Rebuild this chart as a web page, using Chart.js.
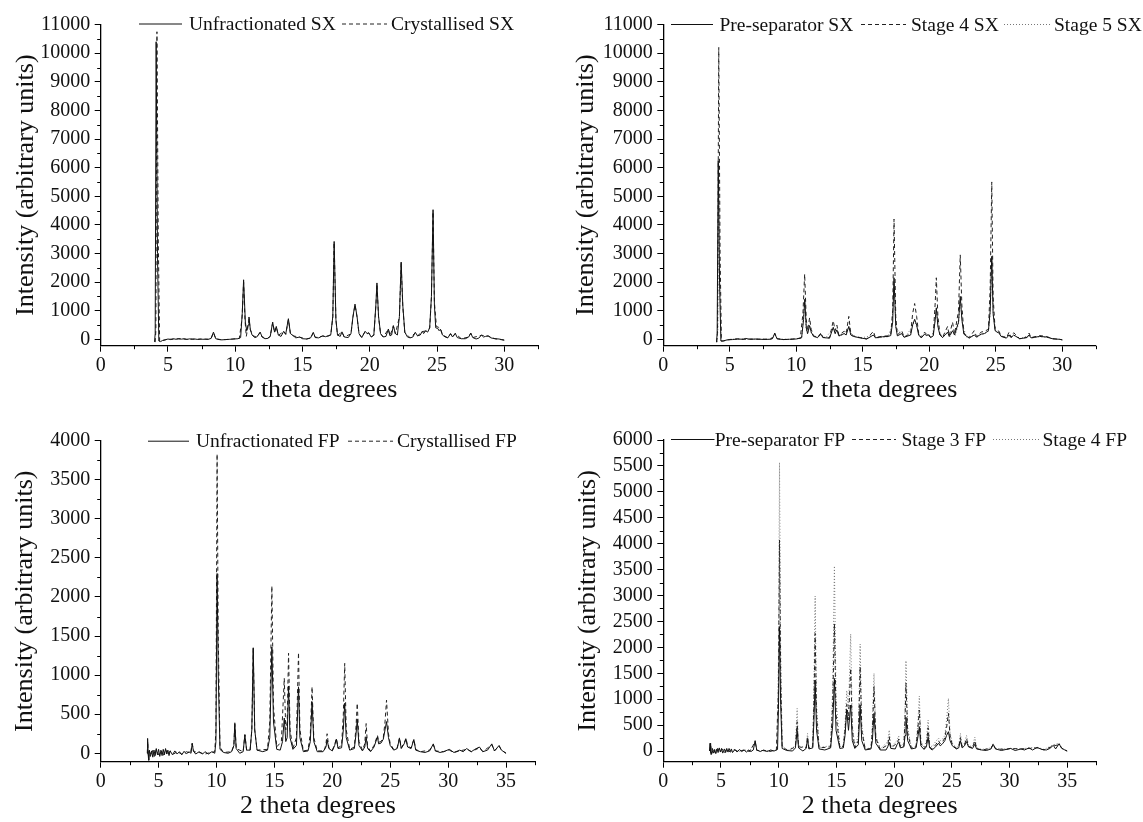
<!DOCTYPE html>
<html>
<head>
<meta charset="utf-8">
<title>XRD patterns SX / FP</title>
<script src="https://cdn.jsdelivr.net/npm/chart.js@4.4.0/dist/chart.umd.min.js"></script>
<style>
  body { margin:0; background:#fff; }
  #wrap { position:relative; width:1143px; height:822px; overflow:hidden; }
  canvas { position:absolute; }
</style>
</head>
<body>
<div id="wrap">
  <canvas id="c1" width="571" height="411" style="left:0;top:0"></canvas>
  <canvas id="c2" width="572" height="411" style="left:571px;top:0"></canvas>
  <canvas id="c3" width="571" height="411" style="left:0;top:411px"></canvas>
  <canvas id="c4" width="572" height="411" style="left:571px;top:411px"></canvas>
</div>
<script>
// ---------- data: [2 theta, intensity] ----------
const sxTicksX = [0,5,10,15,20,25,30];
const sxMinorX = [2.5,7.5,12.5,17.5,22.5,27.5,32.5];
const sxTicksY = [0,1000,2000,3000,4000,5000,6000,7000,8000,9000,10000,11000];
const sxMinorY = [500,1500,2500,3500,4500,5500,6500,7500,8500,9500,10500];

const fpTicksX = [0,5,10,15,20,25,30,35];
const fpMinorX = [2.5,7.5,12.5,17.5,22.5,27.5,32.5,37.5];
const fp3TicksY = [0,500,1000,1500,2000,2500,3000,3500,4000];
const fp3MinorY = [250,750,1250,1750,2250,2750,3250,3750];
const fp4TicksY = [0,500,1000,1500,2000,2500,3000,3500,4000,4500,5000,5500,6000];
const fp4MinorY = [250,750,1250,1750,2250,2750,3250,3750,4250,4750,5250,5750];

// panel 1
const unfracSX = [[4.0,-90],[4.05,200],[4.12,10400],[4.22,3000],[4.32,-60],[4.45,-80],[4.6,-40],[4.8,-20],[5.0,10],[5.2,-10],[5.4,20],[5.6,0],[5.8,25],[6.0,5],[6.2,20],[6.4,-5],[6.6,15],[6.8,0],[7.0,10],[7.2,-5],[7.4,10],[7.6,0],[7.8,5],[8.0,0],[8.2,30],[8.38,250],[8.55,20],[8.8,-10],[9.0,-20],[9.3,-10],[9.6,0],[9.9,10],[10.2,20],[10.4,60],[10.52,900],[10.62,2080],[10.75,600],[10.85,300],[10.95,500],[11.02,780],[11.12,350],[11.25,150],[11.45,60],[11.6,80],[11.85,250],[12.0,80],[12.2,20],[12.4,30],[12.6,100],[12.78,600],[12.92,250],[13.05,450],[13.2,150],[13.4,100],[13.6,280],[13.75,180],[13.95,720],[14.1,200],[14.3,130],[14.5,50],[14.8,80],[15.0,20],[15.3,10],[15.6,50],[15.8,240],[15.95,60],[16.2,50],[16.5,120],[16.7,90],[16.9,120],[17.1,160],[17.25,800],[17.35,3420],[17.48,700],[17.6,150],[17.8,100],[17.93,260],[18.1,80],[18.4,60],[18.6,200],[18.75,800],[18.9,1230],[19.05,800],[19.2,200],[19.4,60],[19.65,280],[19.8,200],[19.92,230],[20.1,80],[20.3,150],[20.45,1200],[20.53,1970],[20.65,800],[20.8,200],[21.0,80],[21.2,100],[21.38,360],[21.5,120],[21.62,150],[21.75,480],[21.9,200],[22.05,150],[22.2,800],[22.33,2700],[22.45,1200],[22.6,250],[22.8,80],[23.0,50],[23.2,80],[23.38,240],[23.55,120],[23.75,150],[23.9,280],[24.0,200],[24.15,300],[24.3,250],[24.45,400],[24.58,1500],[24.7,4530],[24.8,1200],[24.9,400],[25.05,380],[25.15,300],[25.25,350],[25.4,150],[25.6,80],[25.8,50],[26.0,200],[26.15,80],[26.35,210],[26.5,60],[26.8,20],[27.1,20],[27.35,80],[27.5,220],[27.65,60],[27.9,10],[28.1,40],[28.3,150],[28.45,80],[28.6,100],[28.8,120],[29.0,50],[29.3,20],[29.6,10],[29.8,-10],[30.0,-30]];
const crystSX = [[4.05,-100],[4.1,300],[4.18,10750],[4.28,3500],[4.38,-60],[4.5,-60],[4.7,-30],[5.0,10],[5.3,0],[5.6,15],[6.0,10],[6.4,0],[6.8,10],[7.2,0],[7.6,5],[8.0,0],[8.2,20],[8.38,230],[8.55,20],[8.9,-10],[9.3,-10],[9.8,10],[10.3,30],[10.5,700],[10.62,2000],[10.72,700],[10.82,100],[10.95,450],[11.02,720],[11.12,330],[11.3,130],[11.6,70],[11.85,240],[12.0,80],[12.4,30],[12.6,100],[12.78,580],[12.92,240],[13.05,430],[13.2,140],[13.6,270],[13.75,170],[13.95,690],[14.1,190],[14.3,120],[14.8,70],[15.3,10],[15.6,40],[15.8,230],[15.95,60],[16.5,110],[16.9,110],[17.1,150],[17.25,780],[17.35,3380],[17.48,680],[17.6,140],[17.93,250],[18.1,80],[18.6,190],[18.75,780],[18.9,1200],[19.05,780],[19.2,190],[19.4,60],[19.65,270],[19.8,190],[19.92,220],[20.1,80],[20.3,140],[20.45,1150],[20.53,1930],[20.65,780],[20.8,190],[21.0,80],[21.38,350],[21.5,120],[21.75,460],[21.9,190],[22.2,780],[22.33,2650],[22.45,1150],[22.6,240],[23.0,50],[23.38,230],[23.55,120],[23.9,270],[24.15,290],[24.45,390],[24.58,1450],[24.7,4450],[24.8,1300],[24.95,450],[25.1,420],[25.25,380],[25.4,160],[25.8,50],[26.0,190],[26.15,80],[26.35,200],[26.8,20],[27.35,80],[27.5,210],[27.65,60],[28.3,140],[28.8,110],[29.3,20],[30.0,-30]];

// panel 2
const preSepSX = [[4.0,-100],[4.05,200],[4.13,6250],[4.23,2000],[4.33,-60],[4.5,-60],[4.8,-20],[5.2,-10],[5.6,10],[6.0,0],[6.2,30],[6.5,0],[7.0,10],[7.5,-5],[8.0,0],[8.2,20],[8.38,200],[8.55,20],[9.0,-10],[9.5,0],[10.0,10],[10.4,50],[10.55,700],[10.64,1400],[10.75,400],[10.85,200],[11.0,480],[11.12,250],[11.3,100],[11.6,60],[11.85,180],[12.0,60],[12.5,40],[12.78,420],[12.92,200],[13.05,330],[13.2,120],[13.6,200],[13.75,150],[13.95,450],[14.1,150],[14.3,100],[14.8,50],[15.3,10],[15.8,150],[15.95,50],[16.5,90],[16.9,100],[17.1,130],[17.25,600],[17.35,2150],[17.48,450],[17.6,120],[17.93,200],[18.1,70],[18.6,150],[18.75,500],[18.9,700],[19.05,500],[19.2,150],[19.4,50],[19.65,180],[19.8,130],[19.92,160],[20.1,60],[20.3,120],[20.45,700],[20.53,1100],[20.65,450],[20.8,150],[21.0,60],[21.38,250],[21.5,100],[21.75,300],[21.9,150],[22.2,600],[22.33,1500],[22.45,700],[22.6,180],[23.0,40],[23.38,150],[23.55,80],[23.9,180],[24.15,200],[24.45,300],[24.58,1000],[24.7,2900],[24.8,900],[24.95,300],[25.1,250],[25.25,220],[25.4,100],[25.8,40],[26.0,150],[26.15,60],[26.35,150],[26.8,20],[27.35,60],[27.5,150],[27.65,50],[28.3,100],[28.8,80],[29.3,15],[29.8,0],[30.0,-20]];
const stage4SX = [[4.02,-100],[4.08,300],[4.17,10200],[4.27,3000],[4.37,-60],[4.5,-60],[4.8,-20],[5.2,0],[5.6,15],[6.0,0],[6.5,10],[7.0,0],[7.5,5],[8.0,0],[8.2,30],[8.38,220],[8.55,20],[9.0,-10],[9.6,0],[10.3,40],[10.5,900],[10.63,2280],[10.75,700],[10.85,300],[11.0,750],[11.12,350],[11.3,120],[11.6,70],[11.85,220],[12.0,70],[12.5,50],[12.78,650],[12.92,300],[13.05,500],[13.2,150],[13.6,280],[13.75,200],[13.95,800],[14.1,200],[14.3,120],[14.8,60],[15.3,10],[15.8,280],[15.95,60],[16.5,110],[16.9,120],[17.1,160],[17.25,1000],[17.35,4200],[17.48,800],[17.6,150],[17.93,300],[18.1,80],[18.6,200],[18.75,900],[18.9,1250],[19.05,800],[19.2,200],[19.4,60],[19.65,250],[19.8,170],[19.92,200],[20.1,70],[20.3,150],[20.45,1300],[20.53,2150],[20.65,800],[20.8,180],[21.0,70],[21.38,450],[21.5,120],[21.75,600],[21.9,180],[22.2,1000],[22.33,2950],[22.45,1200],[22.6,220],[23.0,50],[23.38,300],[23.55,100],[23.9,250],[24.15,280],[24.45,350],[24.58,1800],[24.7,5500],[24.8,1500],[24.95,350],[25.1,300],[25.25,280],[25.4,120],[25.8,50],[26.0,250],[26.15,70],[26.35,230],[26.8,20],[27.35,70],[27.5,220],[27.65,60],[28.3,130],[28.8,100],[29.3,20],[29.8,0],[30.0,-20]];
const stage5SX = [[4.03,-100],[4.1,300],[4.16,5900],[4.25,1800],[4.35,-60],[4.6,-50],[5.0,0],[5.5,10],[6.0,0],[7.0,5],[8.0,0],[8.38,180],[8.6,10],[9.5,0],[10.4,40],[10.62,1300],[10.75,350],[10.85,180],[11.0,450],[11.15,200],[11.6,50],[11.85,160],[12.2,40],[12.78,400],[12.92,180],[13.05,300],[13.25,100],[13.6,180],[13.95,420],[14.2,120],[14.8,40],[15.8,140],[16.0,40],[16.9,90],[17.2,500],[17.35,2000],[17.5,400],[17.93,180],[18.2,60],[18.75,480],[18.9,650],[19.05,450],[19.3,100],[19.65,170],[19.92,150],[20.2,80],[20.45,650],[20.53,1050],[20.7,300],[21.0,60],[21.38,230],[21.55,90],[21.75,280],[21.95,120],[22.2,550],[22.33,1400],[22.5,500],[22.8,80],[23.38,140],[23.6,70],[23.9,170],[24.15,190],[24.45,280],[24.58,900],[24.7,2800],[24.82,800],[25.0,280],[25.25,200],[25.5,80],[26.0,140],[26.15,60],[26.35,140],[26.8,20],[27.5,140],[27.7,40],[28.3,90],[28.8,70],[29.5,10],[30.0,-20]];

// panel 3
const unfracFP = [[4.0,0],[4.05,190],[4.1,-20],[4.15,-90],[4.2,40],[4.3,-40],[4.4,30],[4.5,-50],[4.6,40],[4.7,-30],[4.8,60],[4.9,-20],[5.0,50],[5.1,-40],[5.2,30],[5.3,-30],[5.4,50],[5.5,-20],[5.6,60],[5.7,-10],[5.8,40],[5.9,-30],[6.0,30],[6.2,-20],[6.4,30],[6.6,-10],[6.8,20],[7.0,-20],[7.2,25],[7.4,-10],[7.6,20],[7.8,0],[7.9,130],[8.0,30],[8.2,-10],[8.5,20],[8.8,-10],[9.0,20],[9.3,-10],[9.6,20],[9.85,0],[9.95,150],[10.05,2300],[10.15,1000],[10.3,50],[10.6,10],[11.0,0],[11.3,20],[11.5,100],[11.58,380],[11.7,60],[12.0,0],[12.3,20],[12.45,235],[12.6,40],[12.9,40],[13.05,300],[13.17,1350],[13.3,300],[13.5,40],[14.0,20],[14.4,40],[14.6,200],[14.78,1360],[14.92,400],[15.2,50],[15.5,40],[15.7,150],[15.85,450],[15.98,150],[16.1,200],[16.22,860],[16.35,200],[16.6,50],[16.9,100],[17.08,850],[17.2,200],[17.5,20],[17.9,30],[18.1,150],[18.25,660],[18.4,150],[18.7,20],[19.2,20],[19.45,80],[19.55,170],[19.7,60],[20.0,30],[20.2,100],[20.35,180],[20.5,60],[20.8,70],[20.95,300],[21.07,640],[21.2,200],[21.5,40],[21.9,60],[22.05,250],[22.15,435],[22.3,100],[22.6,30],[22.8,80],[22.92,210],[23.05,60],[23.3,20],[23.6,80],[23.9,210],[24.0,120],[24.2,130],[24.4,180],[24.55,300],[24.68,405],[24.85,200],[25.0,100],[25.3,40],[25.6,60],[25.8,190],[25.95,60],[26.2,120],[26.36,180],[26.5,80],[26.8,60],[27.04,175],[27.2,40],[27.6,20],[28.0,10],[28.4,30],[28.72,120],[28.9,30],[29.3,10],[29.6,20],[30.1,50],[30.5,10],[31.0,40],[31.3,20],[31.6,60],[32.0,20],[32.3,50],[32.7,80],[33.0,20],[33.4,40],[33.77,120],[34.0,30],[34.4,100],[34.6,40],[35.0,0]];
const crystFP = [[4.02,0],[4.06,150],[4.12,-60],[4.2,30],[4.35,-30],[4.5,40],[4.65,-40],[4.8,50],[5.0,-20],[5.2,40],[5.4,-30],[5.6,50],[5.8,-20],[6.0,30],[6.3,-10],[6.6,20],[7.0,-10],[7.4,20],[7.75,0],[7.9,120],[8.05,20],[8.5,10],[9.0,-10],[9.5,10],[9.85,20],[9.95,300],[10.05,3830],[10.15,1500],[10.3,80],[10.6,10],[11.3,20],[11.5,100],[11.58,390],[11.7,60],[12.3,20],[12.45,240],[12.6,40],[12.9,40],[13.05,300],[13.17,1340],[13.3,300],[13.5,40],[14.4,50],[14.6,400],[14.78,2140],[14.92,600],[15.2,80],[15.6,150],[15.85,960],[15.98,300],[16.1,400],[16.22,1280],[16.35,300],[16.6,60],[16.9,200],[17.08,1290],[17.2,300],[17.5,30],[17.9,40],[18.1,250],[18.25,850],[18.4,200],[18.7,30],[19.3,30],[19.45,120],[19.55,250],[19.7,70],[20.0,40],[20.2,110],[20.35,190],[20.5,70],[20.8,100],[20.95,500],[21.07,1150],[21.2,300],[21.5,50],[21.9,80],[22.05,350],[22.15,640],[22.3,150],[22.6,40],[22.8,120],[22.92,380],[23.05,80],[23.3,30],[23.6,100],[23.9,230],[24.0,140],[24.2,150],[24.4,200],[24.55,400],[24.68,680],[24.85,250],[25.0,120],[25.3,50],[25.6,70],[25.8,200],[25.95,70],[26.2,130],[26.36,195],[26.5,90],[26.8,70],[27.04,180],[27.2,50],[27.6,20],[28.4,40],[28.72,110],[28.9,30],[29.6,20],[30.1,40],[30.5,10],[31.0,30],[31.6,50],[32.0,20],[32.7,70],[33.0,20],[33.77,110],[34.0,30],[34.4,90],[34.6,40],[35.0,0]];

// panel 4
const preSepFP = [[4.0,0],[4.05,150],[4.1,-30],[4.15,-70],[4.25,50],[4.35,-40],[4.45,30],[4.55,-50],[4.65,40],[4.75,-30],[4.85,60],[4.95,-20],[5.05,50],[5.15,-40],[5.3,40],[5.4,-30],[5.5,50],[5.6,-20],[5.7,50],[5.8,-10],[5.9,40],[6.0,-30],[6.2,30],[6.4,-20],[6.6,30],[6.8,-10],[7.0,20],[7.2,-20],[7.4,20],[7.6,-10],[7.8,20],[7.96,200],[8.1,20],[8.4,-10],[8.7,20],[9.0,-10],[9.3,20],[9.6,0],[9.9,30],[9.98,800],[10.07,2400],[10.17,900],[10.3,50],[10.7,10],[11.2,0],[11.45,60],[11.6,400],[11.72,60],[12.1,0],[12.38,50],[12.5,220],[12.62,40],[12.95,60],[13.06,600],[13.16,1370],[13.28,400],[13.5,40],[14.0,20],[14.5,60],[14.68,500],[14.83,1400],[14.97,400],[15.3,50],[15.6,60],[15.75,300],[15.9,790],[16.05,400],[16.24,887],[16.38,200],[16.6,50],[16.9,120],[17.06,887],[17.2,200],[17.5,20],[18.0,40],[18.12,200],[18.26,727],[18.42,150],[18.8,20],[19.3,20],[19.45,80],[19.58,170],[19.72,50],[20.1,40],[20.25,120],[20.4,180],[20.55,60],[20.85,80],[20.95,300],[21.03,650],[21.18,200],[21.5,40],[21.9,60],[22.05,250],[22.19,470],[22.32,100],[22.6,30],[22.8,80],[22.95,270],[23.08,60],[23.3,20],[23.6,80],[23.85,150],[24.0,100],[24.2,140],[24.4,200],[24.55,300],[24.71,373],[24.85,200],[25.05,100],[25.4,40],[25.6,60],[25.75,200],[25.9,60],[26.1,100],[26.28,180],[26.45,80],[26.8,50],[27.0,130],[27.15,40],[27.6,20],[28.0,10],[28.4,40],[28.58,130],[28.8,40],[29.3,10],[29.7,30],[30.1,50],[30.5,10],[31.0,40],[31.3,20],[31.7,60],[32.0,20],[32.4,70],[32.8,30],[33.2,20],[33.5,50],[33.8,110],[34.0,40],[34.3,140],[34.5,60],[34.8,20],[35.0,0]];
const stage3FP = [[4.05,0],[4.1,120],[4.2,-50],[4.35,40],[4.5,-40],[4.7,50],[4.9,-20],[5.1,40],[5.3,-30],[5.5,40],[5.8,-20],[6.1,30],[6.5,-10],[7.0,20],[7.5,-10],[7.96,180],[8.1,10],[8.6,10],[9.2,-10],[9.8,20],[9.98,1200],[10.07,4070],[10.17,1500],[10.3,80],[10.8,10],[11.45,80],[11.6,566],[11.72,80],[12.38,60],[12.5,280],[12.62,50],[12.95,80],[13.06,1000],[13.16,2270],[13.28,700],[13.5,60],[14.5,80],[14.68,900],[14.83,2460],[14.97,700],[15.3,70],[15.6,90],[15.75,400],[15.9,900],[16.05,600],[16.24,1595],[16.38,400],[16.6,60],[16.9,200],[17.06,1627],[17.2,400],[17.5,30],[18.0,50],[18.12,400],[18.26,1241],[18.42,250],[18.8,30],[19.45,120],[19.58,280],[19.72,60],[20.25,150],[20.4,230],[20.55,70],[20.85,100],[20.95,600],[21.03,1305],[21.18,350],[21.5,50],[21.9,80],[22.05,400],[22.19,791],[22.32,150],[22.6,40],[22.8,120],[22.95,450],[23.08,80],[23.3,40],[23.6,120],[23.85,200],[24.0,140],[24.2,180],[24.4,250],[24.55,450],[24.71,727],[24.85,300],[25.05,120],[25.4,50],[25.6,80],[25.75,260],[25.9,80],[26.1,120],[26.28,240],[26.45,90],[26.8,60],[27.0,200],[27.15,50],[27.6,20],[28.4,50],[28.58,130],[28.8,40],[29.7,30],[30.1,50],[31.0,40],[31.7,50],[32.4,60],[33.0,20],[33.8,100],[34.3,120],[34.6,40],[35.0,0]];
const stage4FP = [[4.05,0],[4.1,100],[4.2,-40],[4.4,40],[4.6,-30],[4.8,50],[5.0,-10],[5.3,30],[5.6,-20],[6.0,30],[6.5,-10],[7.0,20],[7.5,0],[7.96,190],[8.1,10],[8.8,10],[9.5,0],[9.85,30],[9.98,1800],[10.07,5563],[10.17,2000],[10.3,100],[10.8,10],[11.45,100],[11.6,823],[11.72,100],[12.38,70],[12.5,340],[12.62,60],[12.95,100],[13.06,1300],[13.16,2990],[13.28,900],[13.5,70],[14.5,100],[14.68,1200],[14.83,3570],[14.97,1000],[15.3,80],[15.6,120],[15.75,500],[15.9,1164],[16.05,800],[16.24,2257],[16.38,500],[16.6,80],[16.9,300],[17.06,2064],[17.2,500],[17.5,40],[18.0,60],[18.12,500],[18.26,1498],[18.42,300],[18.8,40],[19.45,180],[19.58,405],[19.72,80],[20.25,200],[20.4,290],[20.55,90],[20.85,150],[20.95,800],[21.03,1743],[21.18,450],[21.5,60],[21.9,100],[22.05,500],[22.19,1061],[22.32,200],[22.6,60],[22.8,200],[22.95,598],[23.08,120],[23.3,80],[23.6,180],[23.85,250],[24.0,200],[24.2,230],[24.4,300],[24.55,600],[24.71,1016],[24.85,350],[25.05,150],[25.4,70],[25.6,100],[25.75,340],[25.9,100],[26.1,150],[26.28,300],[26.45,110],[26.8,80],[27.0,270],[27.15,60],[27.6,30],[28.4,60],[28.58,140],[28.8,50],[29.7,40],[30.1,50],[31.0,40],[31.7,60],[32.4,70],[33.0,30],[33.8,120],[34.3,150],[34.6,40],[35.0,0]];

// line styles
const SOLID = { color:"#111", dash:[] };
const DASHED = { color:"#222", dash:[4,3] };
const DOTTED = { color:"#777", dash:[1,2] };

// helpers
const $ = (id) => document.getElementById(id);
Chart.defaults.font.family = '"Liberation Serif", "Times New Roman", serif';
Chart.defaults.color = "#111";

// short minor tick marks on both axes
const minorTicks = {
  id: "minorTicks",
  afterDraw(chart, args, opts){
    const ctx = chart.ctx, xs = chart.scales.x, ys = chart.scales.y;
    ctx.save();
    ctx.strokeStyle = "#000"; ctx.lineWidth = 1;
    ctx.beginPath();
    (opts.x || []).forEach(v => {
      const px = Math.round(xs.getPixelForValue(v)) + 0.5;
      ctx.moveTo(px, xs.top); ctx.lineTo(px, xs.top + 3.5);
    });
    (opts.y || []).forEach(v => {
      const py = Math.round(ys.getPixelForValue(v)) + 0.5;
      ctx.moveTo(ys.right, py); ctx.lineTo(ys.right - 3.5, py);
    });
    ctx.stroke();
    ctx.restore();
  }
};

// legend: line sample then label, in one row at the top
const xrdLegend = {
  id: "xrdLegend",
  afterDraw(chart, args, opts){
    const ctx = chart.ctx, y = opts.y;
    ctx.save();
    ctx.font = '19.5px "Liberation Serif", serif';
    ctx.textBaseline = "alphabetic";
    opts.items.forEach((it, i) => {
      const ds = chart.data.datasets[i];
      ctx.strokeStyle = ds.borderColor; ctx.lineWidth = 1;
      ctx.setLineDash(ds.borderDash || []);
      ctx.beginPath(); ctx.moveTo(it.x0, y + 0.5); ctx.lineTo(it.x1, y + 0.5); ctx.stroke();
      ctx.setLineDash([]);
      ctx.fillStyle = "#111";
      ctx.fillText(ds.label, it.tx, y + 6.5);
    });
    ctx.restore();
  }
};

function axisTitle(text, pad){
  return { display:true, text, color:"#111", font:{ size:26 }, padding: pad };
}

function makePanel(id, cfg){
  const datasets = cfg.series.map(s => ({
    label: s.label,
    data: s.data.map(([x, y]) => ({ x, y })),
    showLine: true, pointRadius: 0, borderWidth: 1,
    borderColor: s.style.color, borderDash: s.style.dash, tension: 0, fill: false
  }));
  return new Chart($(id), {
    type: "scatter",
    data: { datasets },
    options: {
      responsive: false, animation: false, devicePixelRatio: 1,
      layout: { padding: cfg.pad },
      plugins: {
        legend: { display:false }, tooltip: { enabled:false },
        minorTicks: { x: cfg.xMinor, y: cfg.yMinor },
        xrdLegend: { y: cfg.legendY, items: cfg.legend }
      },
      scales: {
        x: {
          type: "linear", min: 0, max: cfg.xMax,
          afterBuildTicks: (s) => { s.ticks = cfg.xTicks.map(v => ({ value:v })); },
          afterFit: (s) => { s.height = cfg.xHeight; },
          ticks: { font:{ size:20 }, color:"#111", padding:2, maxRotation:0, autoSkip:false, callback:(v) => String(v) },
          grid: { drawOnChartArea:false, drawTicks:true, tickLength:6, tickColor:"#000", tickWidth:1 },
          border: { display:true, color:"#000", width:1.3 },
          title: axisTitle("2 theta degrees", { bottom: cfg.xTitlePad })
        },
        y: {
          type: "linear", min: cfg.yMin, max: cfg.yMax,
          afterBuildTicks: (s) => { s.ticks = cfg.yTicks.map(v => ({ value:v })); },
          afterFit: (s) => { s.width = cfg.yWidth; },
          ticks: { font:{ size:20 }, color:"#111", padding:4.5, autoSkip:false, callback:(v) => String(v) },
          grid: { drawOnChartArea:false, drawTicks:true, tickLength:6, tickColor:"#000", tickWidth:1 },
          border: { display:true, color:"#000", width:1.3 },
          title: axisTitle("Intensity (arbitrary units)", { top: cfg.yTitlePad })
        }
      }
    },
    plugins: [minorTicks, xrdLegend]
  });
}

// ---------- panels ----------
makePanel("c1", {
  series: [
    { label:"Unfractionated SX", data:unfracSX, style:SOLID },
    { label:"Crystallised SX", data:crystSX, style:DASHED }
  ],
  legend: [ { x0:139, x1:182, tx:189 }, { x0:342, x1:387, tx:391 } ], legendY: 23.5,
  pad: { left:0, top:24.6, right:33, bottom:0 },
  xMax:32.5, xTicks:sxTicksX, xMinor:sxMinorX, xHeight:65.3, xTitlePad:5.4,
  yMin:-224, yMax:11000, yTicks:sxTicksY, yMinor:sxMinorY, yWidth:100.7, yTitlePad:10.4
});

makePanel("c2", {
  series: [
    { label:"Pre-separator SX", data:preSepSX, style:SOLID },
    { label:"Stage 4 SX", data:stage4SX, style:DASHED },
    { label:"Stage 5 SX", data:stage5SX, style:DOTTED }
  ],
  legend: [ { x0:100, x1:142, tx:148.5 }, { x0:290, x1:335, tx:340 }, { x0:433, x1:479, tx:483 } ], legendY: 24,
  pad: { left:0, top:24.6, right:47.5, bottom:0 },
  xMax:32.5, xTicks:sxTicksX, xMinor:sxMinorX, xHeight:65.3, xTitlePad:5.4,
  yMin:-224, yMax:11000, yTicks:sxTicksY, yMinor:sxMinorY, yWidth:92.3, yTitlePad:0
});

makePanel("c3", {
  series: [
    { label:"Unfractionated FP", data:unfracFP, style:SOLID },
    { label:"Crystallised FP", data:crystFP, style:DASHED }
  ],
  legend: [ { x0:148, x1:189, tx:196 }, { x0:348, x1:393, tx:397 } ], legendY: 29.7,
  pad: { left:0, top:29.7, right:36, bottom:0 },
  xMax:37.5, xTicks:fpTicksX, xMinor:fpMinorX, xHeight:60.3, xTitlePad:0,
  yMin:-108, yMax:4000, yTicks:fp3TicksY, yMinor:fp3MinorY, yWidth:100.7, yTitlePad:9.4
});

makePanel("c4", {
  series: [
    { label:"Pre-separator FP", data:preSepFP, style:SOLID },
    { label:"Stage 3 FP", data:stage3FP, style:DASHED },
    { label:"Stage 4 FP", data:stage4FP, style:DOTTED }
  ],
  legend: [ { x0:100, x1:143.5, tx:143.7 }, { x0:281, x1:325, tx:330.5 }, { x0:422, x1:468, tx:471.5 } ], legendY: 28,
  pad: { left:0, top:29, right:47, bottom:0 },
  xMax:37.5, xTicks:fpTicksX, xMinor:fpMinorX, xHeight:60.3, xTitlePad:0,
  yMin:-206, yMax:6000, yTicks:fp4TicksY, yMinor:fp4MinorY, yWidth:92.3, yTitlePad:1.4
});
</script>
</body>
</html>
